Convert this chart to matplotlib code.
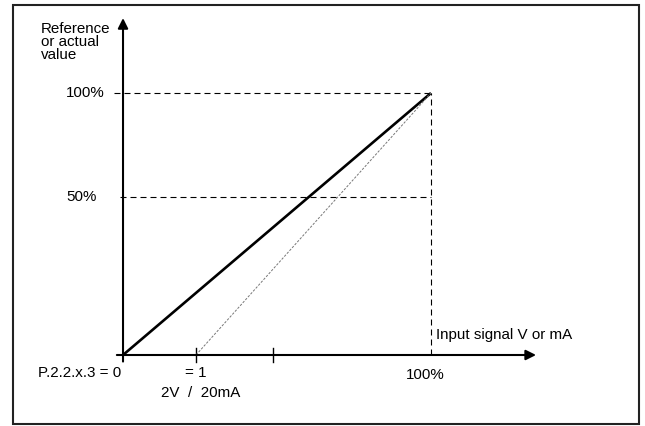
import matplotlib
matplotlib.use("Agg")
import matplotlib.pyplot as plt
from matplotlib.patches import Rectangle

plt.rcParams['font.family'] = ['Liberation Sans', 'DejaVu Sans']

# values in percent of full scale (drawing is not to scale on y)
full_scale = 100
offset_start = 23.7        # "= 1" point (2V / 20mA)
mid_tick = 48.7
y_levels = [100, 60.3]     # where the dashed reference levels are drawn
y_labels = ["100%", "50%"]
x_tick_pos = [offset_start, mid_tick]

ref_line_x = [0, full_scale]
ref_line_y = [0, 100]
offset_line_x = [offset_start, full_scale]
offset_line_y = [0, 100]

fig = plt.figure(figsize=(6.45, 4.26), dpi=100)
ax = fig.add_axes([0, 0, 1, 1])
ax.set_xlim(-39.94, 169.48)
ax.set_ylim(-27.1, 135.5)
ax.axis('off')

# outer frame
ax.add_patch(Rectangle((13 / 645, 2 / 426), 626 / 645, 419 / 426,
                       transform=ax.transAxes, fill=False, lw=1.5,
                       edgecolor='#222222', clip_on=False))

# axes with arrows
ax.annotate('', xy=(0, 128.6), xytext=(0, -2.5),
            arrowprops=dict(arrowstyle='-|>', lw=1.5, color='black',
                            mutation_scale=15, shrinkA=0, shrinkB=0))
ax.annotate('', xy=(134.1, 0), xytext=(-2, 0),
            arrowprops=dict(arrowstyle='-|>', lw=1.5, color='black',
                            mutation_scale=15, shrinkA=0, shrinkB=0))

# x ticks
for xt in x_tick_pos:
    ax.plot([xt, xt], [-2.7, 2.7], color='black', lw=1.0)

# dashed guide lines
ax.plot([-3, full_scale], [y_levels[0], y_levels[0]], color='black',
        lw=0.8, dashes=(5.4, 3.6))
ax.plot([-1, full_scale], [y_levels[1], y_levels[1]], color='black',
        lw=0.8, dashes=(5.4, 3.6))
ax.plot([full_scale, full_scale], [0, y_levels[0]], color='black',
        lw=0.8, dashes=(5.4, 3.6))

# characteristic lines
ax.plot(ref_line_x, ref_line_y, color='black', lw=1.9, solid_capstyle='butt')
ax.plot(offset_line_x, offset_line_y, color='#777777', lw=0.7,
        dashes=(2.5, 1.5))

fs = 10.9
ax.text(-26.6, 127.1, "Reference\nor actual\nvalue", fontsize=fs,
        ha='left', va='top', linespacing=0.9)
for yl, lab in zip(y_levels, y_labels):
    ax.text(-18.5, yl, lab, fontsize=fs, ha='left', va='center')

ax.text(101.6, 6.1, "Input signal V or mA", fontsize=fs, ha='left',
        va='baseline')
ax.text(-0.6, -6.9, "P.2.2.x.3 = 0", fontsize=fs, ha='right', va='center')
ax.text(offset_start, -6.9, "= 1", fontsize=fs, ha='center', va='center')
ax.text(25.3, -14.5, "2V  /  20mA", fontsize=fs, ha='center', va='center')
ax.text(98, -7.5, "100%", fontsize=fs, ha='center', va='center')

fig.savefig("out.png", dpi=100)
